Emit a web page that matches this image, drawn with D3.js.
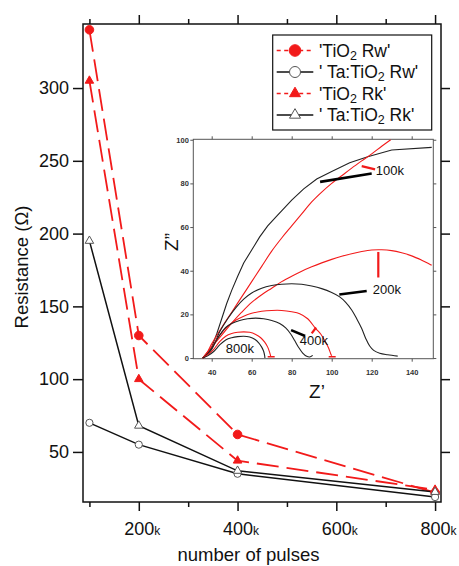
<!DOCTYPE html>
<html>
<head>
<meta charset="utf-8">
<script src="https://cdn.jsdelivr.net/npm/d3@7"></script>
<style>
  body { margin: 0; background: #fff; }
  svg { display: block; font-family: "Liberation Sans", Arial, sans-serif; }
</style>
</head>
<body>
<script>
// main chart data: resistance vs number of pulses (k)
var pulses = [100, 200, 400, 800];
var tio2Rw = [340, 130, 62, 22];
var taRw = [70, 55, 35, 19];
var tio2Rk = [305, 100, 44, 24];
var taRk = [195, 68, 37, 22.5];

var yTicks = [50, 100, 150, 200, 250, 300];
var xMajor = [200, 400, 600, 800];
var xMinor = [100, 300, 500, 700];

// inset: Nyquist curves [Z', Z'']
var red100k = [[35.5,0],[38,3],[40,6.5],[45,14],[50,21],[55,28],[60,35],[65,42],[70,49],[75,55],[80,60.5],[85,66],[90,71.5],[95,76],[100,80],[105,83.5],[110,87],[115,90.3],[120,93.5],[125,97],[129.5,100]];
var black100k = [[35.5,0],[38,2],[40,5],[42.5,11],[45,18],[47.5,25],[50,31],[53,37.5],[56,43.5],[60,49.5],[64,55.5],[68,60.5],[72.5,65],[80,72.3],[86,77.5],[92.5,82],[100,85.5],[109,89.5],[118,92.2],[130,95.3],[150,96.5]];
var red200k = [[35.5,0],[40,5],[45,10.5],[50,16],[55,21],[60,25.5],[65,29],[70,32],[75,35],[80,37.5],[85,39.8],[90,41.8],[95,43.6],[100,45.2],[105,46.6],[110,47.8],[115,48.8],[120,49.5],[125,49.6],[130,49.2],[135,48.2],[140,46.8],[145,44.8],[150,42.5]];
var black200k = [[35.5,0],[40,4],[44,12],[48,18],[52,23],[56,27],[60,29.8],[65,32],[70,33.2],[75,33.8],[80,34],[85,33.8],[90,33],[95,31.8],[100,30],[104,28],[107,25.5],[110,22],[112.5,18],[115,13.5],[117,9],[119,5.5],[121,3.5],[124,2.2],[128,1.5],[133,0.9]];
var red400k = [[35.5,0],[40,5],[44,10.5],[48,14.5],[52,17.3],[56,19.2],[60,20.5],[65,21.4],[70,21.8],[75,21.8],[80,21.2],[84,20.3],[88,18],[92,13.5],[94.5,11],[96.5,8],[98.5,4.5],[99.5,2],[100,1]];
var black400k = [[35.5,0],[38,2],[41,6],[44,10.5],[47,14],[50,15.8],[54,17.2],[58,18],[62,18.3],[66,18],[70,17.2],[74,15.8],[77,13.8],[79.5,11],[81.5,8],[83.5,4.8],[85.5,2.3],[87.5,0.8],[89,0.5],[90.5,1.2]];
var red800k = [[35.5,0],[38,1.5],[41,4],[44,7.5],[47,10],[50,11.2],[53,11.8],[56,12],[59,11.8],[62,10.8],[64.5,9.3],[66.5,7.3],[68,5],[69,2.5],[69.5,0.8]];
var black800k = [[35.5,0],[38,1],[41,3],[44,6],[47,8.3],[50,9.3],[53,9.8],[56,10],[59,9.6],[61.5,8.6],[63.5,7],[65,5],[66,3],[66.5,1],[66.6,0]];

var insetTicks = [0, 20, 40, 60, 80, 100];
var insetXTicks = [40, 60, 80, 100, 120, 140];

// inset annotations: label, position and pointer segments (inset data units)
var labels = [
  {text: "100k", x: 122, y: 84},
  {text: "200k", x: 120.5, y: 29.5},
  {text: "400k", x: 84, y: 6},
  {text: "800k", x: 47, y: 2.2}
];
var blackPointers = [[[94.2,80.7],[120,84.5]], [[103.8,29.1],[117.5,30.7]], [[79.7,12.8],[86.7,10.1]]];
var redPointers = [[[115,87.9],[121.7,86.4]], [[123.3,48.6],[123.3,36.9]], [[90,11.3],[92.2,14]]];

var width = 459, height = 566;
var red = "#f21a1a";

var svg = d3.select("body").append("svg").attr("width", width).attr("height", height);

var x = d3.scaleLinear().domain([87, 812]).range([83, 441]);
var y = d3.scaleLinear().domain([15.6, 344]).range([502, 24]);

// axes on four sides
svg.append("g").attr("transform", "translate(0,502)")
  .call(d3.axisBottom(x).tickValues(xMinor).tickSize(5).tickFormat(""));
var bx = svg.append("g").attr("transform", "translate(0,502)")
  .call(d3.axisBottom(x).tickValues(xMajor).tickSize(9).tickPadding(11));
bx.selectAll("text").each(function(d) {
  var t = d3.select(this).text("").attr("dx", 3);
  t.append("tspan").text(d);
  t.append("tspan").attr("font-size", 12).text("k");
});
svg.append("g").attr("transform", "translate(0,24)")
  .call(d3.axisTop(x).tickValues(xMinor).tickSize(5).tickFormat(""));
svg.append("g").attr("transform", "translate(0,24)")
  .call(d3.axisTop(x).tickValues(xMajor).tickSize(9).tickFormat(""));
svg.append("g").attr("transform", "translate(83,0)")
  .call(d3.axisLeft(y).tickValues(yTicks).tickSize(10).tickPadding(4));
svg.append("g").attr("transform", "translate(441,0)")
  .call(d3.axisRight(y).tickValues(yTicks).tickSize(9).tickFormat(""));

svg.selectAll(".domain").remove();
svg.selectAll(".tick line").attr("stroke", "#111").attr("stroke-width", 1.5);
svg.selectAll(".tick text").attr("font-size", 18).attr("fill", "#111")
  .attr("font-family", "Liberation Sans, Arial, sans-serif");

svg.append("rect").attr("x", 83).attr("y", 24).attr("width", 358).attr("height", 478)
  .attr("fill", "none").attr("stroke", "#111").attr("stroke-width", 1.5);

svg.append("text").attr("x", 248.5).attr("y", 561).attr("text-anchor", "middle")
  .attr("font-size", 18.5).attr("fill", "#111").text("number of pulses");
svg.append("text").attr("transform", "translate(28,267) rotate(-90)").attr("text-anchor", "middle")
  .attr("font-size", 18.5).attr("fill", "#111").text("Resistance (\u03A9)");

// series
var series = [
  {name: "TiO2 Rw", pre: "'", values: tio2Rw, color: red, dash: "22,8", width: 1.8, shape: "circle", fill: true},
  {name: "Ta:TiO2 Rw", pre: "' ", values: taRw, color: "#111", dash: null, width: 1.5, shape: "circle", fill: false},
  {name: "TiO2 Rk", pre: "'", values: tio2Rk, color: red, dash: "22,8", width: 1.8, shape: "triangle", fill: true},
  {name: "Ta:TiO2 Rk", pre: "' ", values: taRk, color: "#111", dash: null, width: 1.5, shape: "triangle", fill: false}
];

var line = d3.line().x(function(d) { return x(d[0]); }).y(function(d) { return y(d[1]); });

function marker(g, s, cx, cy, big) {
  if (s.shape === "circle") {
    g.append("circle").attr("cx", cx).attr("cy", cy).attr("r", s.fill ? (big ? 5.8 : 4.3) : (big ? 5.5 : 3.6))
      .attr("fill", s.fill ? s.color : "#fff").attr("stroke", s.fill ? s.color : "#555").attr("stroke-width", 1);
  } else {
    var side = big ? 11 : 8.5;
    g.append("path").attr("d", d3.symbol().type(d3.symbolTriangle).size(side * side * Math.sqrt(3) / 4)())
      .attr("transform", "translate(" + cx + "," + cy + ")")
      .attr("fill", s.fill ? s.color : "#fff").attr("stroke", s.fill ? s.color : "#555").attr("stroke-width", 1);
  }
}

series.forEach(function(s) {
  var pts = pulses.map(function(p, i) { return [p, s.values[i]]; });
  svg.append("path").attr("d", line(pts)).attr("fill", "none").attr("stroke", s.color)
    .attr("stroke-width", s.width).attr("stroke-dasharray", s.dash);
});
series.forEach(function(s) {
  var g = svg.append("g");
  pulses.forEach(function(p, i) { marker(g, s, x(p), y(s.values[i]), false); });
});

// legend
var lg = svg.append("g");
lg.append("rect").attr("x", 272.7).attr("y", 35).attr("width", 159).attr("height", 95)
  .attr("fill", "#fff").attr("stroke", "#111").attr("stroke-width", 1.2);
series.forEach(function(s, i) {
  var ly = 50.5 + i * 21.5;
  lg.append("line").attr("x1", 276.7).attr("x2", 313.3).attr("y1", ly).attr("y2", ly)
    .attr("stroke", s.color).attr("stroke-width", 1.5).attr("stroke-dasharray", s.dash ? "4,3.5" : null);
  marker(lg, s, 295, ly, true);
  var parts = s.name.split("2");
  var t = lg.append("text").attr("x", 319).attr("y", ly + 6).attr("font-size", 17.5).attr("fill", "#111");
  t.append("tspan").text(s.pre + parts[0]);
  t.append("tspan").attr("font-size", 12.5).attr("dy", 3).text("2");
  t.append("tspan").attr("dy", -3).text(parts[1] + "'");
});

// inset
var ix = d3.scaleLinear().domain([30.8, 150.8]).range([193.3, 433.3]);
var iy = d3.scaleLinear().domain([-0.3, 100.2]).range([358.7, 139.3]);
var ins = svg.append("g");
ins.append("rect").attr("x", 193.3).attr("y", 139.3).attr("width", 240).attr("height", 219.4).attr("fill", "#fff");

var iaxes = ins.append("g").attr("class", "inset-axes");
iaxes.append("g").attr("transform", "translate(0,358.7)")
  .call(d3.axisBottom(ix).tickValues(insetXTicks).tickSize(3).tickPadding(8));
iaxes.append("g").attr("transform", "translate(0,139.3)")
  .call(d3.axisTop(ix).tickValues(insetXTicks).tickSize(3).tickFormat(""));
iaxes.append("g").attr("transform", "translate(193.3,0)")
  .call(d3.axisLeft(iy).tickValues(insetTicks).tickSize(3).tickPadding(1.5));
iaxes.append("g").attr("transform", "translate(433.3,0)")
  .call(d3.axisRight(iy).tickValues(insetTicks).tickSize(3).tickFormat(""));
iaxes.selectAll(".domain").remove();
iaxes.selectAll(".tick line").attr("stroke", "#555").attr("stroke-width", 1);
iaxes.selectAll(".tick text").attr("font-size", 7.5).attr("fill", "#333").attr("font-weight", "bold")
  .attr("font-family", "Liberation Sans Narrow, Liberation Sans, Arial, sans-serif");

ins.append("rect").attr("x", 193.3).attr("y", 139.3).attr("width", 240).attr("height", 219.4)
  .attr("fill", "none").attr("stroke", "#555").attr("stroke-width", 1);

var iline = d3.line().x(function(d) { return ix(d[0]); }).y(function(d) { return iy(d[1]); });
var smooth = d3.line().curve(d3.curveCatmullRom).x(function(d) { return ix(d[0]); }).y(function(d) { return iy(d[1]); });

var curves = [
  {pts: black100k, color: "#222", f: iline},
  {pts: red100k, color: red, f: smooth},
  {pts: red200k, color: red, f: smooth},
  {pts: black200k, color: "#222", f: smooth},
  {pts: red400k, color: red, f: smooth},
  {pts: black400k, color: "#222", f: smooth},
  {pts: red800k, color: red, f: smooth},
  {pts: black800k, color: "#222", f: smooth}
];
var clip = ins.append("clipPath").attr("id", "iclip");
clip.append("rect").attr("x", 193.3).attr("y", 139.3).attr("width", 240).attr("height", 219.4);
var cg = ins.append("g").attr("clip-path", "url(#iclip)");
curves.forEach(function(c) {
  cg.append("path").attr("d", c.f(c.pts)).attr("fill", "none").attr("stroke", c.color)
    .attr("stroke-width", 1.1);
});
// short end bars on red 400k / 800k
[red400k, red800k].forEach(function(pts) {
  var e = pts[pts.length - 1];
  cg.append("line").attr("x1", ix(e[0]) - 3).attr("x2", ix(e[0]) + 4).attr("y1", iy(0.6)).attr("y2", iy(0.6))
    .attr("stroke", red).attr("stroke-width", 1.3);
});

blackPointers.forEach(function(p) {
  ins.append("path").attr("d", iline(p)).attr("stroke", "#000").attr("stroke-width", 2.6);
});
redPointers.forEach(function(p) {
  ins.append("path").attr("d", iline(p)).attr("stroke", red).attr("stroke-width", 2.2);
});
labels.forEach(function(l) {
  ins.append("text").attr("x", ix(l.x)).attr("y", iy(l.y)).attr("font-size", 13).attr("fill", "#111").text(l.text);
});

ins.append("text").attr("x", 317).attr("y", 398).attr("text-anchor", "middle")
  .attr("font-size", 19).attr("fill", "#111").text("Z\u2019");
ins.append("text").attr("transform", "translate(178,242) rotate(-90)").attr("text-anchor", "middle")
  .attr("font-size", 19).attr("fill", "#111").text("Z\u201D");
</script>
</body>
</html>
